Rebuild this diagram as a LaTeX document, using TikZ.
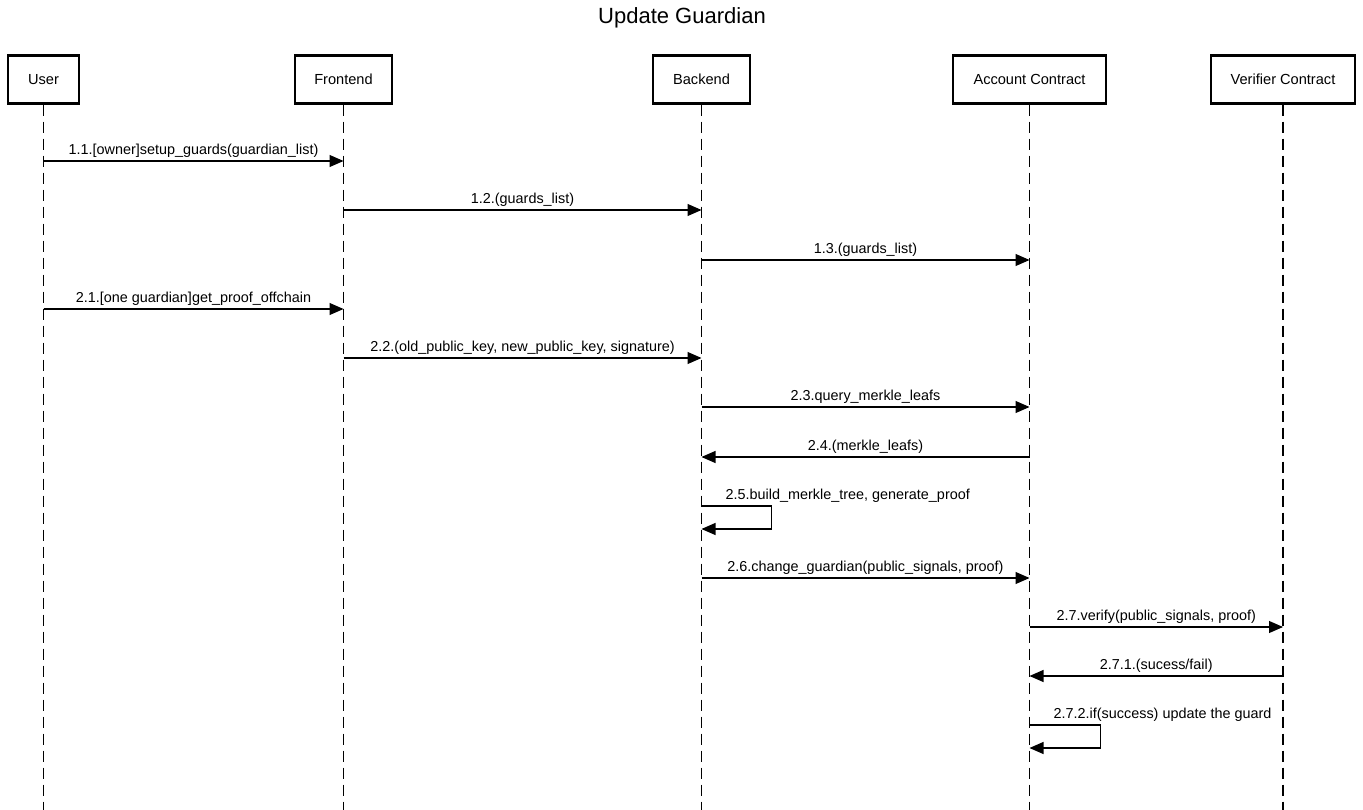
\documentclass[tikz,border=0pt]{standalone}
\usepackage{fontspec}
\setmainfont{Liberation Sans}
\usetikzlibrary{arrows.meta, positioning}

\begin{document}
\begin{tikzpicture}[x=1pt, y=-1pt,
  actor/.style={draw, line width=2.2pt, minimum height=48pt, inner sep=0pt, font=\fontsize{14.6}{17}\selectfont},
  lifeline/.style={line width=1.1pt, dash pattern=on 11pt off 6pt},
  msg/.style={line width=1.1pt, -{Triangle[length=14pt, width=12pt]}},
  lbl/.style={font=\fontsize{14.4}{17}\selectfont, inner sep=1pt, above=2pt}]
  \useasboundingbox (0,0) rectangle (1363,810);

  % title
  \node[font=\fontsize{22}{26}\selectfont] (title) at (682,18) {Update Guardian};

  % participants
  \node[actor, minimum width=71pt] (user) at (43.5,79.5) {User};
  \node[actor, minimum width=97pt] (front) at (343.5,79.5) {Frontend};
  \node[actor, minimum width=97pt] (back) at (701.5,79.5) {Backend};
  \node[actor, minimum width=153pt] (acct) at (1029.5,79.5) {Account Contract};
  \node[actor, minimum width=144pt] (verif) at (1283,79.5) {Verifier Contract};

  % lifelines
  \foreach \p in {user, front, back, acct, verif}
    \draw[lifeline] (\p.south) -- (\p |- 0,810);

  % messages
  \draw[msg] (user |- 0,161) -- (front |- 0,161)
    node[lbl, midway] {1.1.[owner]setup\_guards(guardian\_list)};
  \draw[msg] (front |- 0,210) -- (back |- 0,210)
    node[lbl, midway] {1.2.(guards\_list)};
  \draw[msg] (back |- 0,260) -- (acct |- 0,260)
    node[lbl, midway] {1.3.(guards\_list)};
  \draw[msg] (user |- 0,309) -- (front |- 0,309)
    node[lbl, midway] {2.1.[one guardian]get\_proof\_offchain};
  \draw[msg] (front |- 0,358) -- (back |- 0,358)
    node[lbl, midway] {2.2.(old\_public\_key, new\_public\_key, signature)};
  \draw[msg] (back |- 0,407) -- (acct |- 0,407)
    node[lbl, midway] {2.3.query\_merkle\_leafs};
  \draw[msg] (acct |- 0,457) -- (back |- 0,457)
    node[lbl, midway] {2.4.(merkle\_leafs)};

  % self call on backend
  \coordinate (b5) at (back |- 0,506);
  \draw[msg] (b5) -- ++(70,0) |- (back |- 0,529);
  \node[lbl, above right=2pt and 23pt of b5, inner sep=1pt] (l25) {2.5.build\_merkle\_tree, generate\_proof};

  \draw[msg] (back |- 0,578) -- (acct |- 0,578)
    node[lbl, midway] {2.6.change\_guardian(public\_signals, proof)};
  \draw[msg] (acct |- 0,627) -- (verif |- 0,627)
    node[lbl, midway] {2.7.verify(public\_signals, proof)};
  \draw[msg] (verif |- 0,676) -- (acct |- 0,676)
    node[lbl, midway] {2.7.1.(sucess/fail)};

  % self call on account contract
  \coordinate (a8) at (acct |- 0,725);
  \draw[msg] (a8) -- ++(71,0) |- (acct |- 0,748);
  \node[lbl, above right=2pt and 23pt of a8, inner sep=1pt] (l272) {2.7.2.if(success) update the guard};
\end{tikzpicture}
\end{document}
